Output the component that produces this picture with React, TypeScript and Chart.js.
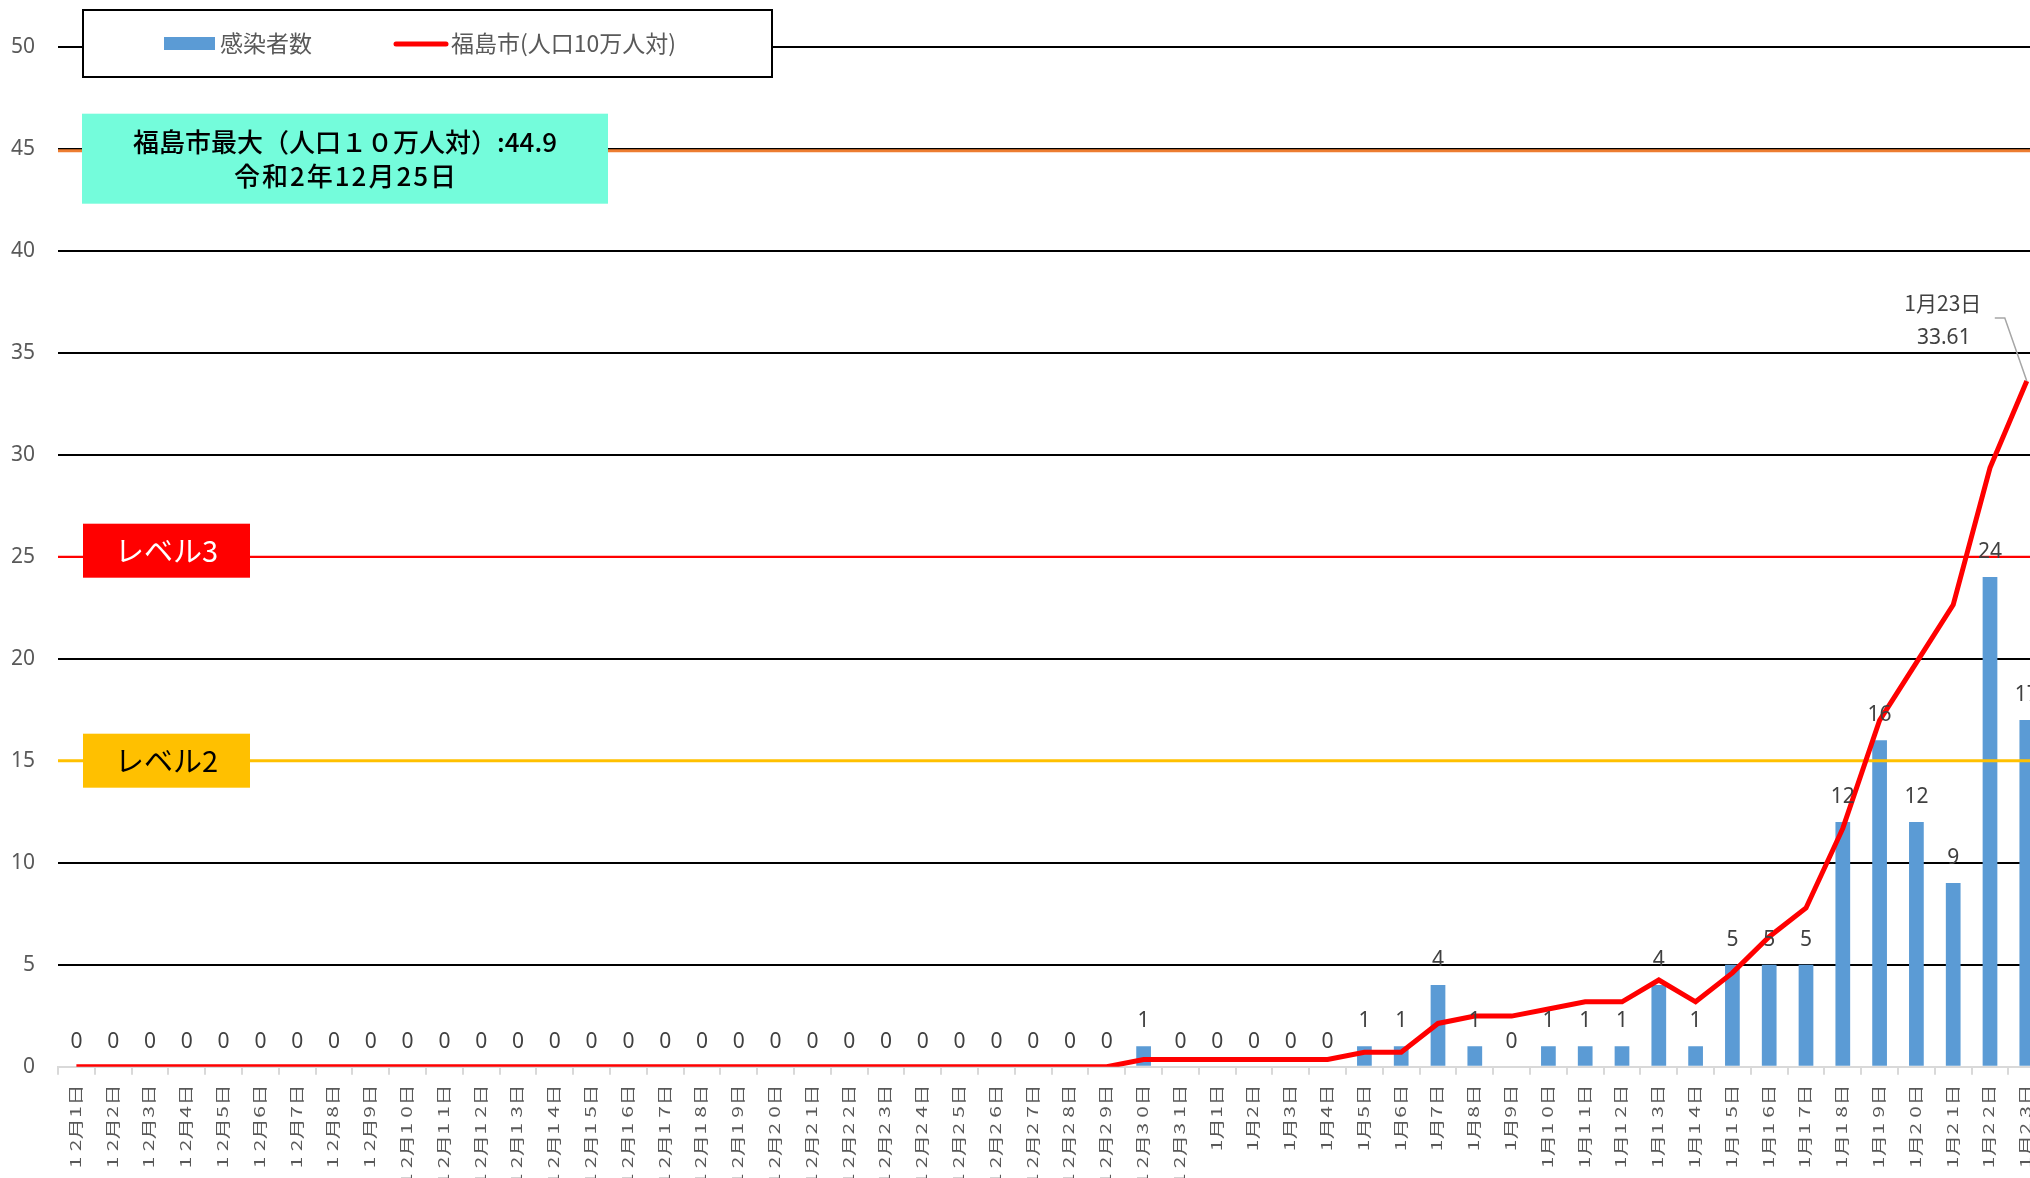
import React, { useEffect, useRef } from "react";
import { Chart, registerables } from "chart.js";

Chart.register(...registerables);

const categories: string[] = [
  "12月1日", "12月2日", "12月3日", "12月4日", "12月5日", "12月6日", "12月7日", "12月8日", "12月9日", "12月10日",
  "12月11日", "12月12日", "12月13日", "12月14日", "12月15日", "12月16日", "12月17日", "12月18日", "12月19日", "12月20日",
  "12月21日", "12月22日", "12月23日", "12月24日", "12月25日", "12月26日", "12月27日", "12月28日", "12月29日", "12月30日",
  "12月31日", "1月1日", "1月2日", "1月3日", "1月4日", "1月5日", "1月6日", "1月7日", "1月8日", "1月9日",
  "1月10日", "1月11日", "1月12日", "1月13日", "1月14日", "1月15日", "1月16日", "1月17日", "1月18日", "1月19日",
  "1月20日", "1月21日", "1月22日", "1月23日",
];

const cases: number[] = [
  0, 0, 0, 0, 0, 0, 0, 0, 0, 0,
  0, 0, 0, 0, 0, 0, 0, 0, 0, 0,
  0, 0, 0, 0, 0, 0, 0, 0, 0, 1,
  0, 0, 0, 0, 0, 1, 1, 4, 1, 0,
  1, 1, 1, 4, 1, 5, 5, 5, 12, 16,
  12, 9, 24, 17,
];

const ratePer100k: number[] = [
  0, 0, 0, 0, 0, 0, 0, 0, 0, 0,
  0, 0, 0, 0, 0, 0, 0, 0, 0, 0,
  0, 0, 0, 0, 0, 0, 0, 0, 0, 0.35,
  0.35, 0.35, 0.35, 0.35, 0.35, 0.71, 0.71, 2.12, 2.48, 2.48,
  2.83, 3.18, 3.18, 4.25, 3.18, 4.6, 6.37, 7.78, 11.68, 16.98,
  19.81, 22.64, 29.36, 33.61,
];

const yTicks: number[] = [0, 5, 10, 15, 20, 25, 30, 35, 40, 45, 50];

const seriesNames: string[] = ["感染者数", "福島市(人口10万人対)"];
const level3 = { value: 25, label: "レベル3" };
const level2 = { value: 15, label: "レベル2" };
const maxValue = 44.9;
const maxLines: string[] = ["福島市最大（人口１０万人対）:44.9", "令和2年12月25日"];
const lastPointLabel: string[] = ["1月23日", "33.61"];

const NUM_FONT = "'Liberation Sans Narrow', 'Noto Sans', sans-serif";
const CJK_FONT = "'Noto Sans CJK JP', 'Noto Sans', sans-serif";

const W = 2060;
const H = 1240;

const overlayPlugin = {
  id: "overlay",
  afterDatasetDraw(chart: any, args: any) {
    if (args.index !== 0) return;
    const { ctx, chartArea, scales } = chart;
    const y = scales.y;
    ctx.save();
    ctx.strokeStyle = "#ED7D31";
    ctx.lineWidth = 3;
    ctx.beginPath();
    ctx.moveTo(chartArea.left, y.getPixelForValue(maxValue));
    ctx.lineTo(chartArea.right, y.getPixelForValue(maxValue));
    ctx.stroke();
    const lv = [
      { v: level3.value, c: "#FF0000", w: 2 },
      { v: level2.value, c: "#FFC000", w: 3 },
    ];
    lv.forEach((l) => {
      ctx.strokeStyle = l.c;
      ctx.lineWidth = l.w;
      ctx.beginPath();
      const py = y.getPixelForValue(l.v);
      ctx.moveTo(chartArea.left, py);
      ctx.lineTo(chartArea.right, py);
      ctx.stroke();
    });
    ctx.restore();
  },
  afterDraw(chart: any) {
    const { ctx, scales } = chart;
    const y = scales.y;
    const xs = scales.x;
    ctx.save();

    // x category labels, rotated, one glyph per fixed step
    ctx.fillStyle = "#595959";
    ctx.font = `20px ${CJK_FONT}`;
    ctx.textAlign = "center";
    ctx.textBaseline = "middle";
    const topY = xs.top + 20;
    const adv = 16.8;
    const sAlong = 1.05;
    const sAcross = 0.72;
    categories.forEach((lab, i) => {
      const x = xs.getPixelForValue(i) - 1;
      const chars = Array.from(lab);
      const n = chars.length;
      ctx.save();
      ctx.translate(x, topY);
      ctx.rotate(-Math.PI / 2);
      ctx.scale(sAlong, sAcross);
      chars.forEach((ch, k) => {
        ctx.fillText(ch, -((n - k - 0.5) * adv) / sAlong, 0);
      });
      ctx.restore();
    });

    // bar data labels
    const barMeta = chart.getDatasetMeta(0);
    ctx.font = `21px ${NUM_FONT}`;
    ctx.fillStyle = "#404040";
    ctx.textAlign = "center";
    ctx.textBaseline = "middle";
    barMeta.data.forEach((el: any, i: number) => {
      ctx.fillText(String(cases[i]), el.x, el.y - 25);
    });

    // callout for last point
    const lineMeta = chart.getDatasetMeta(1);
    const last = lineMeta.data[lineMeta.data.length - 1];
    if (last) {
      const px = last.x;
      const py = last.y;
      ctx.strokeStyle = "#A6A6A6";
      ctx.lineWidth = 1.5;
      ctx.beginPath();
      ctx.moveTo(px - 32, py - 63);
      ctx.lineTo(px - 22, py - 63);
      ctx.lineTo(px, py);
      ctx.stroke();
      ctx.fillStyle = "#404040";
      ctx.font = `21px ${CJK_FONT}`;
      ctx.textAlign = "center";
      ctx.fillText(lastPointLabel[0], px - 84, py - 78);
      ctx.font = `21px ${NUM_FONT}`;
      ctx.fillText(lastPointLabel[1], px - 83, py - 43);
    }

    // boxes
    const drawBox = (
      x0: number, x1: number, cy: number, h: number, fill: string,
      lines: string[], color: string, fonts: string[], spacings: number[], lh: number
    ) => {
      ctx.fillStyle = fill;
      ctx.fillRect(x0, cy - h / 2, x1 - x0, h);
      ctx.fillStyle = color;
      ctx.textAlign = "center";
      ctx.textBaseline = "middle";
      const start = cy - ((lines.length - 1) * lh) / 2;
      lines.forEach((t, i) => {
        ctx.font = fonts[i];
        (ctx as any).letterSpacing = `${spacings[i]}px`;
        ctx.fillText(t, (x0 + x1) / 2 + spacings[i] / 2, start + i * lh);
      });
      (ctx as any).letterSpacing = "0px";
    };
    drawBox(83, 250, y.getPixelForValue(level3.value) - 6, 54, "#FF0000", [level3.label], "#FFFFFF",
      [`29px ${CJK_FONT}`], [0], 0);
    drawBox(83, 250, y.getPixelForValue(level2.value), 54, "#FFC000", [level2.label], "#000000",
      [`29px ${CJK_FONT}`], [0], 0);
    drawBox(82, 608, y.getPixelForValue(45) + 10, 90, "#74FCDB", maxLines, "#000000",
      [`500 26px ${CJK_FONT}`, `500 26px ${CJK_FONT}`], [0, 2], 34);

    // legend
    ctx.fillStyle = "#FFFFFF";
    ctx.fillRect(83, 10, 689, 67);
    ctx.strokeStyle = "#000000";
    ctx.lineWidth = 2;
    ctx.strokeRect(83, 10, 689, 67);
    ctx.fillStyle = "#5B9BD5";
    ctx.fillRect(164, 37, 51, 13);
    ctx.fillStyle = "#595959";
    ctx.font = `23px ${CJK_FONT}`;
    ctx.textAlign = "left";
    ctx.textBaseline = "middle";
    ctx.fillText(seriesNames[0], 220, 43);
    ctx.strokeStyle = "#FF0000";
    ctx.lineWidth = 5;
    ctx.lineCap = "round";
    ctx.beginPath();
    ctx.moveTo(396, 44);
    ctx.lineTo(446, 44);
    ctx.stroke();
    ctx.fillText(seriesNames[1], 451, 43);

    ctx.restore();
  },
};

export default function App() {
  const canvasRef = useRef<HTMLCanvasElement | null>(null);

  useEffect(() => {
    const canvas = canvasRef.current;
    if (!canvas) return;
    const chart = new Chart(canvas, {
      type: "bar",
      data: {
        labels: categories,
        datasets: [
          {
            type: "bar",
            label: seriesNames[0],
            data: cases,
            backgroundColor: "#5B9BD5",
            borderWidth: 0,
            barPercentage: 0.4,
            categoryPercentage: 1,
            order: 2,
          },
          {
            type: "line",
            label: seriesNames[1],
            data: ratePer100k,
            borderColor: "#FF0000",
            borderWidth: 5,
            pointRadius: 0,
            tension: 0,
            fill: false,
            order: 1,
          } as any,
        ],
      },
      options: {
        responsive: false,
        animation: false,
        devicePixelRatio: 1,
        layout: { padding: { left: 0, right: W - 2045.2, top: 46.7, bottom: 0 } },
        plugins: {
          legend: { display: false },
          tooltip: { enabled: false },
        },
        scales: {
          x: {
            type: "category",
            offset: true,
            grid: {
              offset: true,
              drawOnChartArea: false,
              drawTicks: true,
              tickLength: 8,
              color: "#D9D9D9",
              lineWidth: 2,
            },
            border: { display: true, color: "#D9D9D9", width: 2 },
            ticks: { display: false, autoSkip: false },
            afterFit: (scale: any) => {
              scale.height = H - 1066.7;
            },
          },
          y: {
            min: 0,
            max: 50,
            afterBuildTicks: (scale: any) => {
              scale.ticks = yTicks.map((v) => ({ value: v }));
            },
            grid: {
              drawTicks: false,
              lineWidth: 2,
              color: (c: any) => {
                const v = c.tick && c.tick.value;
                if (v === 0) return "#D9D9D9";
                if (v === 15) return "#FFC000";
                if (v === 25) return "#FF0000";
                return "#000000";
              },
            },
            border: { display: false },
            ticks: {
              padding: 23,
              color: "#595959",
              font: { family: NUM_FONT, size: 21 },
            },
            afterFit: (scale: any) => {
              scale.width = 58;
            },
          },
        },
      },
      plugins: [overlayPlugin],
    });
    return () => chart.destroy();
  }, []);

  return (
    <div
      style={{
        position: "fixed",
        left: 0,
        top: 0,
        width: 2030,
        height: 1178,
        overflow: "hidden",
        background: "#FFFFFF",
      }}
    >
      <canvas ref={canvasRef} width={W} height={H} style={{ width: W, height: H, display: "block" }} />
    </div>
  );
}
